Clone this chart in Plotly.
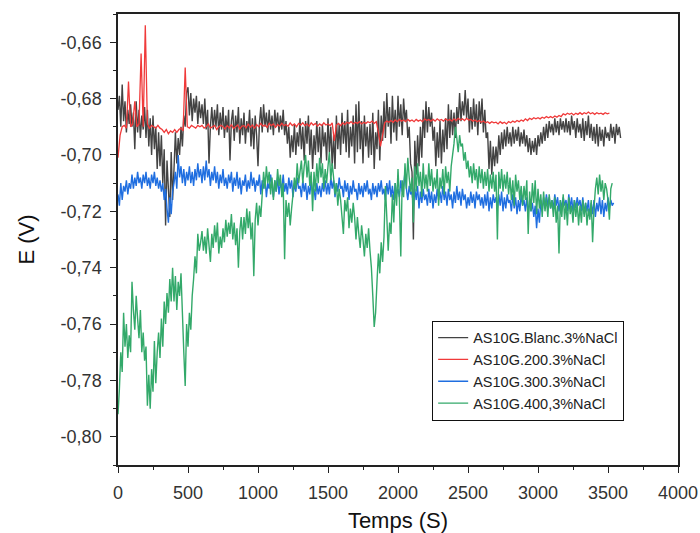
import numpy as np
import plotly.graph_objects as go

# Open-circuit potential vs time (values in mV); sampling step in seconds per series
blanc_dt = 10
blanc_mV = [
    -684, -679, -690, -675, -688, -681, -692, -684, -689, -682,
    -690, -685, -698, -681, -692, -684, -694, -686, -691, -683,
    -694, -684, -697, -687, -700, -686, -698, -690, -705, -692,
    -704, -693, -710, -698, -725, -702, -712, -722, -699, -716,
    -705, -692, -703, -694, -700, -690, -697, -686, -690, -678,
    -676, -686, -678, -688, -680, -685, -679, -689, -681, -687,
    -682, -689, -680, -691, -684, -703, -690, -683, -691, -684,
    -690, -682, -693, -685, -691, -683, -694, -686, -692, -684,
    -702, -688, -684, -695, -686, -692, -683, -696, -687, -693,
    -685, -696, -688, -692, -684, -697, -687, -698, -686, -693,
    -704, -689, -683, -692, -682, -690, -685, -692, -684, -691,
    -686, -693, -684, -690, -685, -692, -686, -691, -684, -693,
    -688, -696, -690, -701, -693, -699, -689, -700, -692, -697,
    -687, -698, -690, -702, -688, -696, -686, -700, -691, -705,
    -693, -700, -688, -699, -690, -703, -689, -697, -692, -702,
    -687, -699, -690, -704, -693, -705, -686, -698, -689, -700,
    -685, -696, -688, -699, -684, -701, -690, -697, -686, -703,
    -682, -699, -681, -698, -688, -703, -686, -697, -690, -701,
    -689, -700, -685, -705, -692, -698, -684, -702, -686, -695,
    -681, -694, -678, -690, -683, -696, -679, -692, -684, -695,
    -679, -690, -682, -693, -680, -688, -684, -694, -690, -703,
    -706, -730, -695, -707, -693, -704, -690, -701, -684, -694,
    -681, -692, -683, -690, -685, -695, -690, -704, -692, -701,
    -688, -703, -691, -699, -687, -698, -682, -694, -684, -693,
    -685, -694, -683, -689, -678, -688, -681, -686, -677, -687,
    -680, -692, -683, -691, -680, -690, -682, -693, -681, -689,
    -680, -692, -684, -694, -692, -705, -695, -707, -697, -704,
    -697, -703, -693, -700, -692, -698, -691, -697, -690, -696,
    -692, -697, -690, -696, -691, -695, -690, -697, -692, -696,
    -691, -697, -693, -699, -694, -700, -695, -699, -694, -700,
    -693, -697, -692, -696, -690, -695, -689, -694, -688, -692,
    -689, -693, -687, -692, -688, -693, -687, -691, -688, -692,
    -687, -692, -688, -693, -686, -691, -688, -694, -687, -692,
    -689, -694, -687, -695, -688, -693, -686, -694, -689, -695,
    -690, -696, -689, -697, -690, -695, -691, -697, -690, -694,
    -692, -695, -689, -694, -690, -696, -689, -693, -690, -694,
]

e200_dt = 15
e200_mV = [
    -701, -693, -690, -689.5, -690.5, -674, -690, -689, -681, -690,
    -689, -664, -690, -654, -689, -690.5, -689.5, -690, -690.5, -689.5,
    -690.5, -691, -692, -691, -692.5, -691.5, -692, -691, -692, -691,
    -690.5, -691.5, -669, -690, -690.5, -689.5, -690, -690.5, -689.5, -690,
    -689.5, -690.5, -690, -689, -690.5, -690, -689.5, -691, -690, -689.5,
    -690, -690.8, -689.6, -690.4, -689.2, -690.6, -690, -689.4, -690.8, -689.8,
    -689.6, -690.4, -689, -690.2, -689.4, -690.6, -689.2, -690, -688.8, -689.8,
    -689.4, -690.2, -688.8, -689.6, -689, -690.2, -689.2, -689.8, -688.8, -689.6,
    -689.2, -689.8, -688.6, -689.6, -689, -690, -688.8, -689.4, -688.6, -689.6,
    -689, -689.8, -688.6, -689.4, -688.8, -689.8, -689, -689.6, -688.6, -689.4,
    -689, -689.6, -688.6, -695, -689.4, -688.8, -689.6, -688.6, -689.2, -688.4,
    -688.8, -688.2, -689, -688.4, -688.8, -688.2, -689, -688.4, -688.8, -688.2,
    -688.6, -688, -688.8, -688.2, -692, -697, -693, -688.6, -688, -688.4,
    -687.8, -688.4, -687.6, -688.2, -687.4, -688, -687.6, -688.2, -687.4, -688,
    -687.6, -688.2, -687.4, -688, -687.6, -688.2, -687.2, -687.8, -687.4, -688,
    -687.4, -688, -687.2, -687.8, -687.4, -688, -687.2, -687.8, -687.4, -688,
    -687.2, -687.8, -687, -687.6, -687.2, -687.8, -687, -687.6, -687.4, -688,
    -687.6, -688.2, -687.8, -688.4, -688, -688.6, -688.2, -688.8, -688.2, -688.6,
    -688.4, -689, -688.2, -688.8, -688.4, -689, -688.2, -688.6, -688, -688.4,
    -687.8, -688.2, -687.6, -688, -687.2, -687.8, -687, -687.4, -686.8, -687.2,
    -686.8, -687.2, -686.6, -687, -686.4, -686.8, -686.4, -686.8, -686.2, -686.6,
    -686, -686.4, -685.4, -685.8, -685.2, -685.6, -685.2, -685.8, -685.2, -685.6,
    -685, -685.6, -685, -685.4, -684.8, -685.4, -685, -685.6, -685, -685.4,
    -685.2, -685.6, -685, -685.4, -685.2,
]

e300_dt = 10
e300_mV = [
    -714, -718, -710, -716, -711, -713, -709, -714, -710, -712,
    -707, -712, -708, -711, -706, -710, -708, -712, -707, -710,
    -706, -711, -708, -712, -707, -710, -706, -711, -708, -712,
    -709, -713, -710, -716, -712, -719, -724, -715, -721, -713,
    -710, -706, -712, -700, -708, -704, -710, -705, -711, -706,
    -709, -704, -710, -706, -711, -705, -709, -703, -708, -705,
    -710, -704, -709, -702, -708, -705, -711, -706, -709, -704,
    -710, -706, -712, -707, -710, -705, -711, -708, -712, -707,
    -710, -706, -713, -708, -711, -706, -712, -708, -714, -709,
    -711, -707, -713, -709, -712, -706, -711, -708, -713, -709,
    -711, -707, -714, -709, -712, -708, -715, -710, -712, -707,
    -711, -715, -709, -713, -708, -714, -710, -712, -707, -713,
    -710, -714, -708, -712, -709, -715, -710, -713, -708, -712,
    -711, -715, -709, -713, -710, -716, -711, -714, -709, -713,
    -712, -716, -710, -714, -711, -715, -710, -713, -709, -714,
    -710, -714, -708, -712, -709, -715, -710, -713, -708, -712,
    -711, -715, -709, -713, -710, -716, -711, -714, -709, -713,
    -712, -716, -710, -714, -711, -715, -710, -713, -709, -714,
    -712, -716, -710, -714, -711, -715, -710, -713, -709, -714,
    -712, -716, -710, -714, -709, -715, -711, -716, -710, -714,
    -712, -715, -709, -713, -711, -706, -712, -716, -711, -714,
    -713, -718, -712, -716, -711, -719, -713, -717, -712, -716,
    -714, -718, -712, -717, -713, -719, -714, -717, -712, -716,
    -713, -717, -711, -716, -713, -718, -712, -716, -714, -719,
    -713, -717, -711, -716, -713, -718, -712, -716, -714, -719,
    -715, -718, -713, -717, -714, -719, -713, -716, -714, -718,
    -715, -719, -714, -718, -713, -720, -715, -719, -714, -717,
    -715, -719, -714, -718, -713, -720, -715, -719, -714, -717,
    -716, -720, -714, -719, -715, -721, -716, -720, -714, -718,
    -716, -720, -715, -721, -716, -720, -717, -722, -718, -726,
    -719, -724, -716, -720, -715, -719, -714, -718, -715, -719,
    -716, -719, -714, -718, -715, -720, -716, -719, -715, -718,
    -716, -720, -714, -719, -715, -720, -716, -719, -715, -718,
    -716, -720, -715, -721, -717, -720, -716, -722, -717, -721,
    -716, -722, -717, -720, -715, -721, -716, -722, -717, -720,
    -715, -719, -716, -718, -717,
]

e400_dt = 10
e400_mV = [
    -792, -783, -770, -777, -756, -768, -760, -772, -764, -770,
    -745, -755, -762, -750, -758, -765, -755, -770, -763, -773,
    -768, -789, -778, -790, -776, -784, -766, -781, -770, -763,
    -772, -758, -768, -752, -760, -749, -756, -744, -752, -740,
    -752, -743, -755, -745, -750, -742, -756, -770, -782, -760,
    -768, -756, -762, -750, -744, -736, -742, -728, -734, -731,
    -727, -734, -729, -735, -726, -732, -738, -728, -733, -725,
    -731, -724, -735, -729, -733, -726, -731, -723, -729, -724,
    -728, -721, -730, -724, -732, -726, -740, -727, -722, -730,
    -722, -728, -719, -726, -720, -730, -724, -743, -723, -717,
    -725, -718, -722, -714, -706, -712, -704, -710, -706, -714,
    -708, -716, -709, -713, -705, -711, -707, -715, -710, -737,
    -716, -722, -717, -725, -719, -714, -708, -712, -703, -710,
    -706, -702, -710, -704, -700, -708, -702, -711, -706, -720,
    -706, -713, -703, -710, -701, -708, -703, -712, -705, -710,
    -704, -699, -709, -703, -708, -714, -710, -718, -712, -716,
    -722, -728, -716, -720, -715, -726, -719, -724, -717, -722,
    -730, -722, -728, -733, -725, -730, -736, -728, -733, -726,
    -734, -740, -750, -761, -756, -745, -735, -742, -731, -738,
    -729, -711, -722, -734, -724, -728, -714, -724, -710, -718,
    -705, -716, -736, -709, -715, -703, -712, -701, -708, -713,
    -708, -724, -704, -713, -703, -711, -706, -715, -703, -712,
    -707, -713, -703, -711, -705, -713, -708, -712, -705, -718,
    -708, -712, -705, -714, -704, -710, -706, -713, -704, -700,
    -696, -690, -694, -699, -693, -697, -696, -702, -699, -705,
    -702, -708, -704, -710, -703, -709, -705, -712, -704, -710,
    -705, -712, -706, -711, -705, -713, -707, -712, -706, -713,
    -707, -730, -706, -712, -705, -713, -707, -712, -706, -714,
    -708, -716, -709, -718, -707, -713, -709, -716, -711, -718,
    -711, -716, -709, -728, -713, -720, -710, -717, -709, -721,
    -712, -719, -714, -722, -713, -720, -715, -722, -714, -719,
    -716, -722, -715, -724, -718, -735, -716, -722, -714, -723,
    -717, -725, -715, -721, -718, -724, -716, -722, -717, -725,
    -718, -724, -716, -722, -717, -725, -719, -723, -716, -731,
    -719, -712, -708, -714, -707, -713, -709, -716, -710, -712,
    -716, -723, -712, -710,
]

series_names = [
    "AS10G.Blanc.3%NaCl",
    "AS10G.200.3%NaCl",
    "AS10G.300.3%NaCl",
    "AS10G.400,3%NaCl",
]
series_values = [blanc_mV, e200_mV, e300_mV, e400_mV]
series_steps = [blanc_dt, e200_dt, e300_dt, e400_dt]
series_colors = ["#434343", "#f03a3a", "#1f6ee0", "#33a96a"]
series_widths = [1.4, 1.3, 1.4, 1.4]

x_ticks = [0, 500, 1000, 1500, 2000, 2500, 3000, 3500, 4000]
y_ticks = [-0.80, -0.78, -0.76, -0.74, -0.72, -0.70, -0.68, -0.66]
y_tick_text = ["-0,80", "-0,78", "-0,76", "-0,74", "-0,72", "-0,70", "-0,68", "-0,66"]

fig = go.Figure()
for name, vals, dt, col, w in zip(series_names, series_values, series_steps,
                                  series_colors, series_widths):
    e = np.asarray(vals, dtype=float) / 1000.0
    t = np.arange(len(e)) * dt
    fig.add_trace(go.Scatter(
        x=t, y=e, mode="lines", name=name,
        line=dict(color=col, width=w, simplify=False),
    ))

font_family = "Liberation Sans, Arial, sans-serif"
axis_common = dict(
    showline=True, linecolor="#222", linewidth=1.5, mirror=True,
    ticks="outside", ticklen=6, tickwidth=1.3, tickcolor="#222",
    showgrid=False, zeroline=False, ticklabelstandoff=5, automargin=False,
    tickfont=dict(family=font_family, size=18, color="#333"),
)

fig.update_layout(
    width=700, height=533,
    margin=dict(l=118, r=22, t=14, b=68),
    paper_bgcolor="white", plot_bgcolor="white",
    font=dict(family=font_family, color="#222"),
    xaxis=dict(
        range=[0, 4000], tickvals=x_ticks,
        minor=dict(ticks="outside", ticklen=3, dtick=250, tick0=0, tickcolor="#222"),
        title=dict(text="Temps (S)", font=dict(size=22, color="#111"), standoff=12),
        **axis_common,
    ),
    yaxis=dict(
        range=[-0.810, -0.650], tickvals=y_ticks, ticktext=y_tick_text,
        minor=dict(ticks="outside", ticklen=3, dtick=0.01, tick0=-0.80, tickcolor="#222"),
        title=dict(text="E (V)", font=dict(size=22, color="#111"), standoff=20),
        **axis_common,
    ),
    legend=dict(
        x=0.561, y=0.32, xanchor="left", yanchor="top",
        bgcolor="white", bordercolor="#111", borderwidth=1,
        font=dict(family=font_family, size=14.5, color="#222"),
        itemwidth=30, tracegroupgap=0,
    ),
    showlegend=True,
)

fig.write_html("out.html")
